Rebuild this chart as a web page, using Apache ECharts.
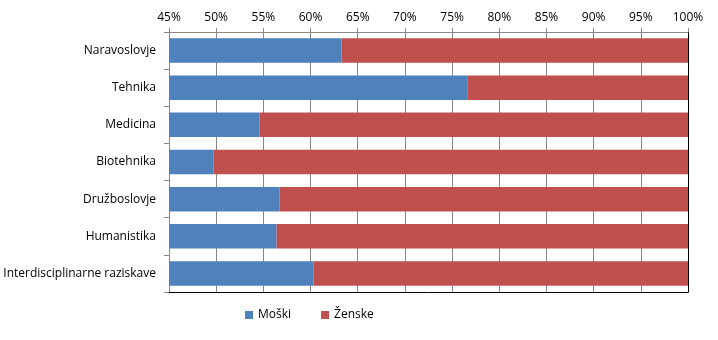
<!DOCTYPE html>
<html>
<head>
<meta charset="utf-8">
<script src="https://cdn.jsdelivr.net/npm/echarts@6/dist/echarts.min.js"></script>
<style>html,body{margin:0;padding:0;background:#fff}#chart{width:718px;height:340px}</style>
</head>
<body>
<div id="chart"></div>
<script>
// podatki
var categories = ['Naravoslovje', 'Tehnika', 'Medicina', 'Biotehnika', 'Družboslovje', 'Humanistika', 'Interdisciplinarne raziskave'];
var moski = [63.3, 76.6, 54.6, 49.7, 56.7, 56.4, 60.3];
var zenske = [36.7, 23.4, 45.4, 50.3, 43.3, 43.6, 39.7];

var font = 'Open Sans';
var chart = echarts.init(document.getElementById('chart'));
chart.setOption({
    animation: false,
    textStyle: { fontFamily: font },
    grid: { left: 169, right: 30, top: 32, bottom: 48 },
    legend: {
        data: ['Moški', 'Ženske'],
        bottom: 14,
        left: 240,
        itemWidth: 8,
        itemHeight: 8,
        itemGap: 30,
        icon: 'rect',
        textStyle: { fontSize: 12, color: '#000', fontFamily: font }
    },
    xAxis: [{
        type: 'value',
        position: 'top',
        min: 45,
        max: 100,
        interval: 5,
        axisLabel: { formatter: '{value}%', fontSize: 12, color: '#000', margin: 8 },
        axisLine: { show: true, lineStyle: { color: '#888' } },
        axisTick: { show: true, length: 4, lineStyle: { color: '#888' } },
        splitLine: { show: true, lineStyle: { color: '#888' } }
    }, {
        type: 'value',
        position: 'bottom',
        min: 45,
        max: 100,
        axisLabel: { show: false },
        axisLine: { show: true, lineStyle: { color: '#000' } },
        axisTick: { show: false },
        splitLine: { show: false }
    }],
    yAxis: [{
        type: 'category',
        data: categories,
        inverse: true,
        axisLabel: { fontSize: 12, color: '#000', margin: 13 },
        axisLine: { show: true, lineStyle: { color: '#888' } },
        axisTick: { show: true, length: 5, lineStyle: { color: '#888' } }
    }, {
        type: 'category',
        data: categories,
        inverse: true,
        position: 'right',
        axisLabel: { show: false },
        axisLine: { show: true, lineStyle: { color: '#000' } },
        axisTick: { show: false }
    }],
    series: [{
        name: 'Moški',
        type: 'bar',
        stack: 'spol',
        barWidth: '66%',
        itemStyle: { color: '#4F81BD' },
        data: moski
    }, {
        name: 'Ženske',
        type: 'bar',
        stack: 'spol',
        barWidth: '66%',
        itemStyle: { color: '#C0504D' },
        data: zenske
    }]
});
</script>
</body>
</html>
